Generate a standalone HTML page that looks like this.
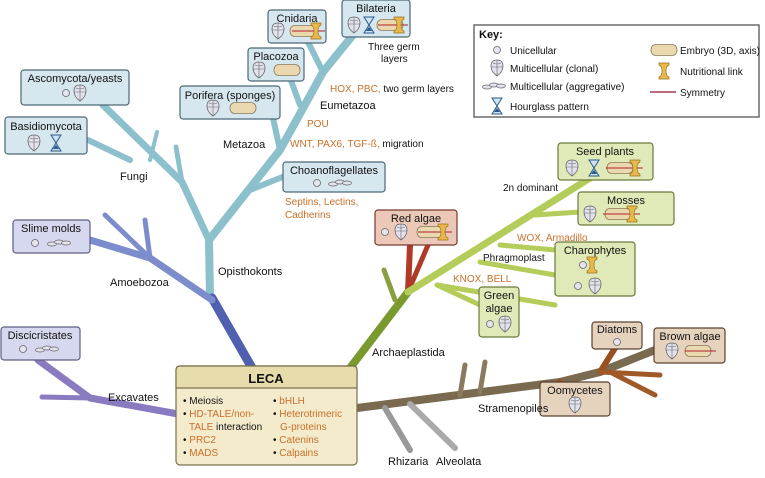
<!DOCTYPE html>
<html><head><meta charset="utf-8"><style>
body{margin:0;background:#fff;}
svg{display:block;font-family:"Liberation Sans",sans-serif;}
.t{font-size:11px;fill:#111;}
.o{font-size:10px;fill:#c8702a;}
.k{font-size:10px;fill:#111;}
.bl{fill:#d6e7ef;stroke:#4d6876;stroke-width:1.2;}
.pu{fill:#d6d8ef;stroke:#5d5f80;stroke-width:1.2;}
.rd{fill:#ecc8b8;stroke:#7a3a30;stroke-width:1.2;}
.gr{fill:#e0e9b8;stroke:#6a7a3a;stroke-width:1.2;}
.br{fill:#e6d3be;stroke:#5a4030;stroke-width:1.2;}
.br2{fill:none;stroke-linecap:round;stroke-linejoin:round;}
</style></head><body>
<svg width="765" height="478" viewBox="0 0 765 478">
<defs>
<g id="uni"><circle r="3.5" fill="#e4e4ee" stroke="#666" stroke-width="0.8"/></g>
<g id="clo"><path d="M-6,-2 Q-6,-8 0,-8 Q6,-8 6,-2 Q6,4 0,8 Q-6,4 -6,-2Z" fill="#e2e2ee" stroke="#666" stroke-width="0.8"/><path d="M0,-8 V8 M-6,-1 H6 M-4,-5 Q0,-3 4,-5" fill="none" stroke="#666" stroke-width="0.6"/></g>
<g id="agg"><ellipse cx="-7" cy="1" rx="4.5" ry="2" fill="#e2e2ee" stroke="#666" stroke-width="0.7"/><ellipse cx="0" cy="-1" rx="4.5" ry="2" fill="#e2e2ee" stroke="#666" stroke-width="0.7"/><ellipse cx="7" cy="0" rx="4.5" ry="2" fill="#e2e2ee" stroke="#666" stroke-width="0.7"/></g>
<g id="hg"><path d="M-5,-8 H5 L0,0 L5,8 H-5 L0,0Z" fill="#cfe3f2" stroke="#2a5a8a" stroke-width="1"/><path d="M-3,6 H3 L0,2Z" fill="#2a5a8a"/></g>
<g id="emb"><rect x="-13" y="-5.5" width="26" height="11" rx="5" fill="#ead8ae" stroke="#8a7a5a" stroke-width="0.8"/></g>
<g id="nut"><path d="M-5,-8 H5 V-6 Q2,-5 2,0 Q2,5 5,6 V8 H-5 V6 Q-2,5 -2,0 Q-2,-5 -5,-6Z" fill="#e8b84a" stroke="#9a7020" stroke-width="0.7"/></g>
</defs>

<g class="br2" stroke="#8cc0cc">
<path d="M210,298 L209,240 L280,150 L323,72 L357,30" stroke-width="8"/>
<path d="M323,72 L308,42" stroke-width="6"/>
<path d="M300,105 L290,78" stroke-width="6"/>
<path d="M280,150 L273,118" stroke-width="6"/>
<path d="M250,190 L285,176" stroke-width="6"/>
<path d="M209,240 L182,182 L103,105" stroke-width="7"/>
<path d="M182,182 L176,147" stroke-width="5"/>
<path d="M150,160 L157,132" stroke-width="4"/>
<path d="M130,160 L88,140" stroke-width="6"/>
</g>
<path d="M252,368 L212,298" stroke="#5060b0" stroke-width="9" fill="none" stroke-linecap="round"/>
<g class="br2" stroke="#7c8ccc">
<path d="M212,300 L150,258 L90,240" stroke-width="7"/>
<path d="M150,258 L145,220" stroke-width="5"/>
<path d="M150,258 L105,215" stroke-width="5"/>
</g>
<g class="br2" stroke="#8a7ac0">
<path d="M178,414 L90,398 L38,360" stroke-width="7"/>
<path d="M90,398 L42,397" stroke-width="5"/>
</g>
<g class="br2">
<path d="M350,368 L408,292" stroke="#7a9a30" stroke-width="8"/>
<path d="M395,300 L384,270" stroke="#8aa040" stroke-width="5"/>
<path d="M408,292 L410,245" stroke="#b03a2a" stroke-width="6"/>
<path d="M408,292 L428,245" stroke="#b03a2a" stroke-width="5"/>
<path d="M408,292 L590,178" stroke="#b4cc5a" stroke-width="7"/>
<path d="M437,285 L480,305 M437,285 L555,305" stroke="#b4cc5a" stroke-width="5"/>
<path d="M500,245 L555,250 M480,262 L555,275" stroke="#b4cc5a" stroke-width="5"/>
<path d="M535,215 L580,212" stroke="#b4cc5a" stroke-width="5"/>
</g>
<g class="br2">
<path d="M357,408 L560,382 L600,372 L655,350" stroke="#7a6a50" stroke-width="8"/>
<path d="M600,372 L617,345" stroke="#9a5020" stroke-width="6"/>
<path d="M600,372 L660,375 M610,372 L655,395" stroke="#a05a28" stroke-width="5"/>
<path d="M560,382 L565,388" stroke="#9a5020" stroke-width="6"/>
<path d="M460,395 L465,365 M480,392 L485,362" stroke="#8a7a60" stroke-width="5"/>
<path d="M385,408 L410,450" stroke="#999" stroke-width="6"/>
<path d="M410,404 L455,448" stroke="#aaa" stroke-width="6"/>
</g>

<g><rect class="bl" x="268" y="10" width="58" height="33" rx="3"/><text class="t" x="297" y="22" text-anchor="middle">Cnidaria</text><use href="#clo" x="278" y="31"/><use href="#emb" x="303" y="31"/><line x1="292" y1="31" x2="325" y2="31" stroke="#b02030"/><use href="#nut" x="316" y="31"/></g>
<g><rect class="bl" x="342" y="0" width="68" height="37" rx="3"/><text class="t" x="376" y="12" text-anchor="middle">Bilateria</text><use href="#clo" x="354" y="25"/><use href="#hg" x="369" y="25"/><use href="#emb" x="390" y="25"/><line x1="378" y1="25" x2="408" y2="25" stroke="#b02030"/><use href="#nut" x="399" y="25"/></g>
<g><rect class="bl" x="248" y="48" width="56" height="33" rx="3"/><text class="t" x="276" y="60" text-anchor="middle">Placozoa</text><use href="#clo" x="259" y="70"/><use href="#emb" x="287" y="70"/></g>
<g><rect class="bl" x="180" y="86" width="100" height="33" rx="3"/><text class="t" x="230" y="99" text-anchor="middle">Porifera (sponges)</text><use href="#clo" x="213" y="108"/><use href="#emb" x="243" y="108"/></g>
<g><rect class="bl" x="21" y="70" width="108" height="35" rx="3"/><text class="t" x="75" y="82" text-anchor="middle">Ascomycota/yeasts</text><use href="#uni" x="66" y="93"/><use href="#clo" x="80" y="93"/></g>
<g><rect class="bl" x="5" y="117" width="82" height="37" rx="3"/><text class="t" x="46" y="130" text-anchor="middle">Basidiomycota</text><use href="#clo" x="34" y="143"/><use href="#hg" x="56" y="143"/></g>
<g><rect class="bl" x="283" y="162" width="102" height="30" rx="3"/><text class="t" x="334" y="174" text-anchor="middle">Choanoflagellates</text><use href="#uni" x="317" y="183"/><use href="#agg" x="340" y="183"/></g>
<g><rect class="pu" x="13" y="220" width="77" height="33" rx="3"/><text class="t" x="51" y="232" text-anchor="middle">Slime molds</text><use href="#uni" x="35" y="243"/><use href="#agg" x="59" y="243"/></g>
<g><rect class="pu" x="1" y="327" width="79" height="33" rx="3"/><text class="t" x="40" y="339" text-anchor="middle">Discicristates</text><use href="#uni" x="23" y="349"/><use href="#agg" x="47" y="349"/></g>
<g><rect class="rd" x="375" y="210" width="82" height="35" rx="3"/><text class="t" x="416" y="222" text-anchor="middle">Red algae</text><use href="#uni" x="385" y="232"/><use href="#clo" x="401" y="232"/><use href="#emb" x="430" y="232"/><line x1="418" y1="232" x2="452" y2="232" stroke="#b02030"/><use href="#nut" x="443" y="232"/></g>
<g><rect class="gr" x="558" y="143" width="95" height="37" rx="3"/><text class="t" x="605" y="155" text-anchor="middle">Seed plants</text><use href="#clo" x="572" y="168"/><use href="#hg" x="594" y="168"/><use href="#emb" x="620" y="168"/><line x1="606" y1="168" x2="643" y2="168" stroke="#b02030"/><use href="#nut" x="635" y="168"/></g>
<g><rect class="gr" x="578" y="192" width="96" height="33" rx="3"/><text class="t" x="626" y="204" text-anchor="middle">Mosses</text><use href="#clo" x="590" y="214"/><use href="#emb" x="618" y="214"/><line x1="603" y1="214" x2="640" y2="214" stroke="#b02030"/><use href="#nut" x="632" y="214"/></g>
<g><rect class="gr" x="555" y="242" width="80" height="54" rx="3"/><text class="t" x="595" y="254" text-anchor="middle">Charophytes</text><use href="#uni" x="583" y="265"/><use href="#nut" x="592" y="265"/><use href="#uni" x="578" y="286"/><use href="#clo" x="595" y="286"/></g>
<g><rect class="gr" x="479" y="287" width="40" height="50" rx="3"/><text class="t" x="499" y="299" text-anchor="middle">Green</text><text class="t" x="499" y="312" text-anchor="middle">algae</text><use href="#uni" x="490" y="324"/><use href="#clo" x="505" y="324"/></g>
<g><rect class="br" x="592" y="322" width="50" height="27" rx="3"/><text class="t" x="617" y="333" text-anchor="middle">Diatoms</text><use href="#uni" x="617" y="342"/></g>
<g><rect class="br" x="654" y="328" width="71" height="35" rx="3"/><text class="t" x="690" y="340" text-anchor="middle">Brown algae</text><use href="#clo" x="672" y="351"/><use href="#emb" x="698" y="351"/><line x1="685" y1="351" x2="716" y2="351" stroke="#b02030"/></g>
<g><rect class="br" x="540" y="382" width="70" height="34" rx="3"/><text class="t" x="575" y="394" text-anchor="middle">Oomycetes</text><use href="#clo" x="575" y="405"/></g>

<g>
<rect x="176" y="366" width="181" height="99" rx="4" fill="#f4ebcc" stroke="#7a7050" stroke-width="1.2"/>
<path d="M180,366 H353 Q357,366 357,370 V388 H176 V370 Q176,366 180,366Z" fill="#e7dcab" stroke="#7a7050" stroke-width="1.2"/>
<text x="266" y="383" text-anchor="middle" style="font-size:13px;font-weight:bold;fill:#111">LECA</text>
<text class="k" x="183" y="404">• Meiosis</text>
<text class="o" x="183" y="417"><tspan fill="#111">• </tspan>HD-TALE/non-</text>
<text class="o" x="189" y="430">TALE <tspan fill="#111">interaction</tspan></text>
<text class="o" x="183" y="443"><tspan fill="#111">• </tspan>PRC2</text>
<text class="o" x="183" y="456"><tspan fill="#111">• </tspan>MADS</text>
<text class="o" x="273" y="404"><tspan fill="#111">• </tspan>bHLH</text>
<text class="o" x="273" y="417"><tspan fill="#111">• </tspan>Heterotrimeric</text>
<text class="o" x="280" y="430">G-proteins</text>
<text class="o" x="273" y="443"><tspan fill="#111">• </tspan>Catenins</text>
<text class="o" x="273" y="456"><tspan fill="#111">• </tspan>Calpains</text>
</g>

<g>
<text class="t" x="120" y="180">Fungi</text>
<text class="t" x="223" y="148">Metazoa</text>
<text class="t" x="320" y="109">Eumetazoa</text>
<text class="o" x="307" y="127">POU</text>
<text class="o" x="290" y="147">WNT, PAX6, TGF-ß, <tspan fill="#111">migration</tspan></text>
<text class="o" x="330" y="92">HOX, PBC, <tspan fill="#111">two germ layers</tspan></text>
<text class="k" x="368" y="50">Three germ</text>
<text class="k" x="381" y="62">layers</text>
<text class="o" x="285" y="205">Septins, Lectins,</text>
<text class="o" x="285" y="218">Cadherins</text>
<text class="t" x="218" y="275">Opisthokonts</text>
<text class="t" x="110" y="286">Amoebozoa</text>
<text class="t" x="108" y="401">Excavates</text>
<text class="t" x="372" y="356">Archaeplastida</text>
<text class="k" x="503" y="191">2n dominant</text>
<text class="o" x="517" y="241">WOX, Armadillo</text>
<text class="k" x="483" y="261">Phragmoplast</text>
<text class="o" x="453" y="282">KNOX, BELL</text>
<text class="t" x="478" y="412">Stramenopiles</text>
<text class="t" x="388" y="465">Rhizaria</text>
<text class="t" x="436" y="465">Alveolata</text>
</g>

<g>
<rect x="474" y="25" width="285" height="92" fill="#fff" stroke="#555" stroke-width="1.3"/>
<text x="479" y="38" style="font-size:11px;font-weight:bold;fill:#111">Key:</text>
<use href="#uni" x="497" y="50"/><text class="k" x="510" y="54">Unicellular</text>
<use href="#clo" x="497" y="68"/><text class="k" x="510" y="72">Multicellular (clonal)</text>
<use href="#agg" x="494" y="86"/><text class="k" x="510" y="90">Multicellular (aggregative)</text>
<use href="#hg" x="497" y="106"/><text class="k" x="510" y="110">Hourglass pattern</text>
<use href="#emb" x="664" y="50"/><text class="k" x="680" y="54">Embryo (3D, axis)</text>
<use href="#nut" x="664" y="71"/><text class="k" x="680" y="75">Nutritional link</text>
<line x1="650" y1="92" x2="676" y2="92" stroke="#8a1530" stroke-width="1.2"/><text class="k" x="680" y="96">Symmetry</text>
</g>
</svg>
</body></html>
